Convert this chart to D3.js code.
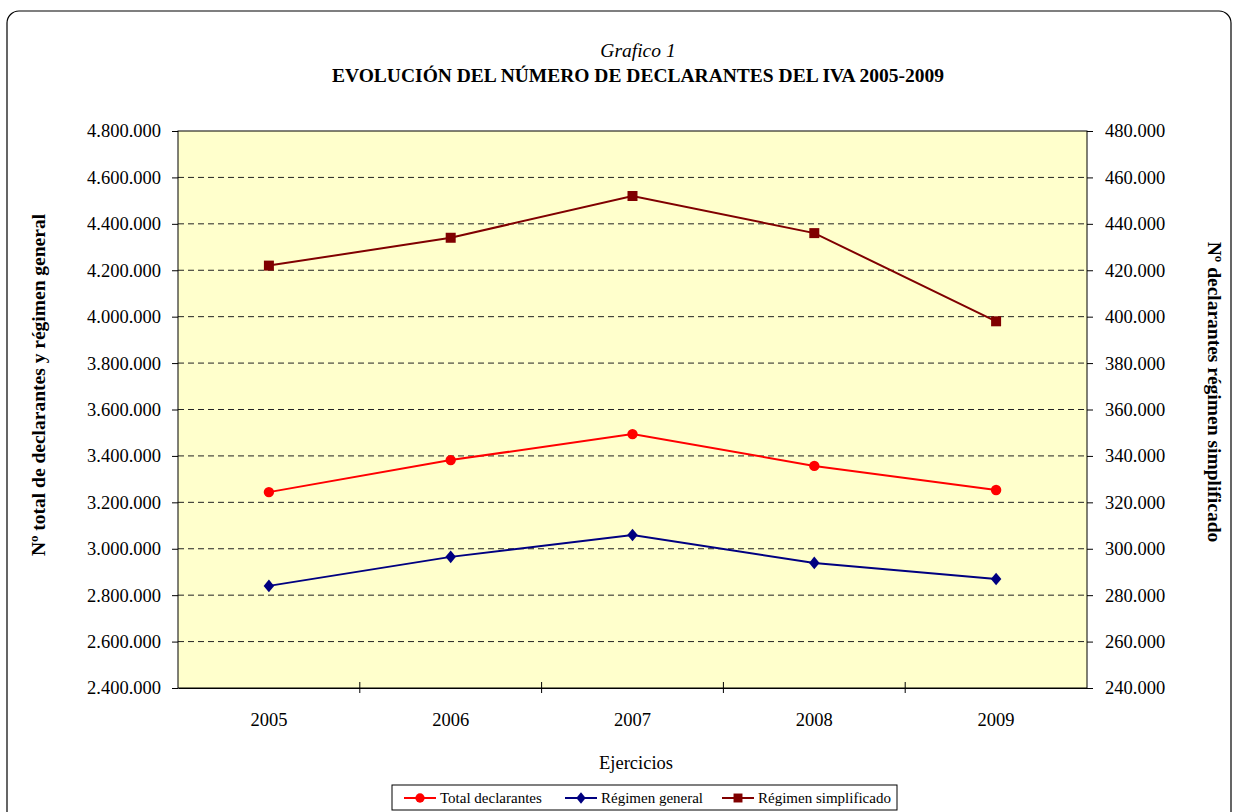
<!DOCTYPE html>
<html>
<head>
<meta charset="utf-8">
<script src="https://cdn.jsdelivr.net/npm/d3@7"></script>
<style>
  body { margin: 0; background: #fff; }
  svg text { font-family: "Liberation Serif", "Times New Roman", serif; fill: #000; }
</style>
</head>
<body>
<div id="chart"></div>
<script>
// Data
const years = ["2005", "2006", "2007", "2008", "2009"];
const totalDeclarantes = [3244000, 3382000, 3494000, 3357000, 3253000];
const regimenGeneral = [2840000, 2965000, 3059000, 2939000, 2870000];
const regimenSimplificado = [422000, 434000, 452000, 436000, 398000];
const leftTicks = [2400000, 2600000, 2800000, 3000000, 3200000, 3400000, 3600000, 3800000, 4000000, 4200000, 4400000, 4600000, 4800000];
const rightTicks = [240000, 260000, 280000, 300000, 320000, 340000, 360000, 380000, 400000, 420000, 440000, 460000, 480000];

const W = 1234, H = 812;
const margin = { top: 131, right: 147, bottom: 124, left: 178 };
const width = W - margin.left - margin.right;
const height = H - margin.top - margin.bottom;

const fmt = d => d3.format(",")(d).replace(/,/g, ".");

const svg = d3.select("#chart")
  .append("svg")
    .attr("width", W)
    .attr("height", H);

// outer frame
svg.append("rect")
  .attr("x", 7).attr("y", 11)
  .attr("width", 1224).attr("height", 830)
  .attr("rx", 12)
  .attr("fill", "none")
  .attr("stroke", "#000")
  .attr("stroke-width", 1.2);

// title
svg.append("text")
  .attr("x", 638).attr("y", 57)
  .attr("text-anchor", "middle")
  .attr("font-style", "italic")
  .attr("font-size", 19.5)
  .text("Grafico 1");
svg.append("text")
  .attr("x", 638).attr("y", 82)
  .attr("text-anchor", "middle")
  .attr("font-weight", "bold")
  .attr("font-size", 19.5)
  .text("EVOLUCIÓN DEL NÚMERO DE DECLARANTES DEL IVA 2005-2009");

const g = svg.append("g")
  .attr("transform", `translate(${margin.left},${margin.top})`);

// scales
const x = d3.scaleBand().domain(years).range([0, width]);
const yL = d3.scaleLinear().domain([2400000, 4800000]).range([height, 0]);
const yR = d3.scaleLinear().domain([240000, 480000]).range([height, 0]);
const cx = d => x(d) + x.bandwidth() / 2;

// plot background
g.append("rect")
  .attr("width", width).attr("height", height)
  .attr("fill", "#ffffcc");

// gridlines
g.selectAll(".grid")
  .data(leftTicks.slice(1, -1))
  .join("line")
  .attr("x1", 0).attr("x2", width)
  .attr("y1", d => yL(d)).attr("y2", d => yL(d))
  .attr("stroke", "#222")
  .attr("stroke-width", 1)
  .attr("stroke-dasharray", "6,4");

// plot border
g.append("rect")
  .attr("width", width).attr("height", height)
  .attr("fill", "none")
  .attr("stroke", "#000")
  .attr("stroke-width", 1);

// left axis
const axL = g.append("g")
  .call(d3.axisLeft(yL).tickValues(leftTicks).tickFormat(fmt).tickSizeInner(6).tickSizeOuter(0).tickPadding(11));

// right axis
const axR = g.append("g")
  .attr("transform", `translate(${width},0)`)
  .call(d3.axisRight(yR).tickValues(rightTicks).tickFormat(fmt).tickSizeInner(6).tickSizeOuter(0).tickPadding(12));

// bottom axis
const axB = g.append("g")
  .attr("transform", `translate(0,${height})`)
  .call(d3.axisBottom(x).tickSize(0).tickPadding(25));
axB.select(".domain").attr("stroke", "#000");

[axL, axR, axB].forEach(a => {
  a.attr("font-family", null).attr("font-size", null);
  a.selectAll("text")
    .attr("font-size", 18.5)
    .style("font-family", "'Liberation Serif', serif");
});
[axL, axR].forEach(a => a.select(".domain").remove());

// category separators crossing the axis
g.selectAll(".sep")
  .data(years.slice(1))
  .join("line")
  .attr("x1", d => x(d)).attr("x2", d => x(d))
  .attr("y1", height - 6).attr("y2", height + 5)
  .attr("stroke", "#000");

// axis titles
svg.append("text")
  .attr("transform", "translate(38,385) rotate(-90)")
  .attr("dy", "0.35em")
  .attr("text-anchor", "middle")
  .attr("font-weight", "bold")
  .attr("font-size", 19.5)
  .text("Nº total de declarantes y régimen general");
svg.append("text")
  .attr("transform", "translate(1215,392) rotate(90)")
  .attr("dy", "0.35em")
  .attr("text-anchor", "middle")
  .attr("font-weight", "bold")
  .attr("font-size", 19.5)
  .text("Nº declarantes régimen simplificado");
svg.append("text")
  .attr("x", 636).attr("y", 769)
  .attr("text-anchor", "middle")
  .attr("font-size", 18.5)
  .text("Ejercicios");

// series (diamond = square rotated 45deg, slightly stretched)
const series = [
  { name: "Total declarantes", values: totalDeclarantes, y: yL, color: "#ff0000", symbol: d3.symbolCircle, size: 85, tf: "" },
  { name: "Régimen general", values: regimenGeneral, y: yL, color: "#000080", symbol: d3.symbolSquare, size: 55, tf: "scale(1,1.2) rotate(45)" },
  { name: "Régimen simplificado", values: regimenSimplificado, y: yR, color: "#800000", symbol: d3.symbolSquare, size: 100, tf: "" }
];

series.forEach(s => {
  const line = d3.line()
    .x((d, i) => cx(years[i]))
    .y(d => s.y(d));
  g.append("path")
    .datum(s.values)
    .attr("fill", "none")
    .attr("stroke", s.color)
    .attr("stroke-width", 2)
    .attr("d", line);
  g.selectAll(null)
    .data(s.values)
    .join("path")
    .attr("transform", (d, i) => `translate(${cx(years[i])},${s.y(d)}) ${s.tf}`)
    .attr("d", d3.symbol(s.symbol, s.size))
    .attr("fill", s.color);
});

// legend
const leg = svg.append("g").attr("transform", "translate(392,785)");
leg.append("rect")
  .attr("width", 505).attr("height", 25)
  .attr("fill", "#fff")
  .attr("stroke", "#000");
const legX = [12, 173, 330];
series.forEach((s, i) => {
  const e = leg.append("g").attr("transform", `translate(${legX[i]},13)`);
  e.append("line").attr("x1", 0).attr("x2", 32).attr("stroke", s.color).attr("stroke-width", 2);
  e.append("path").attr("transform", `translate(16,0) ${s.tf}`).attr("d", d3.symbol(s.symbol, s.size * 0.8)).attr("fill", s.color);
  e.append("text").attr("x", 36).attr("y", 5).attr("font-size", 15).text(s.name);
});
</script>
</body>
</html>
